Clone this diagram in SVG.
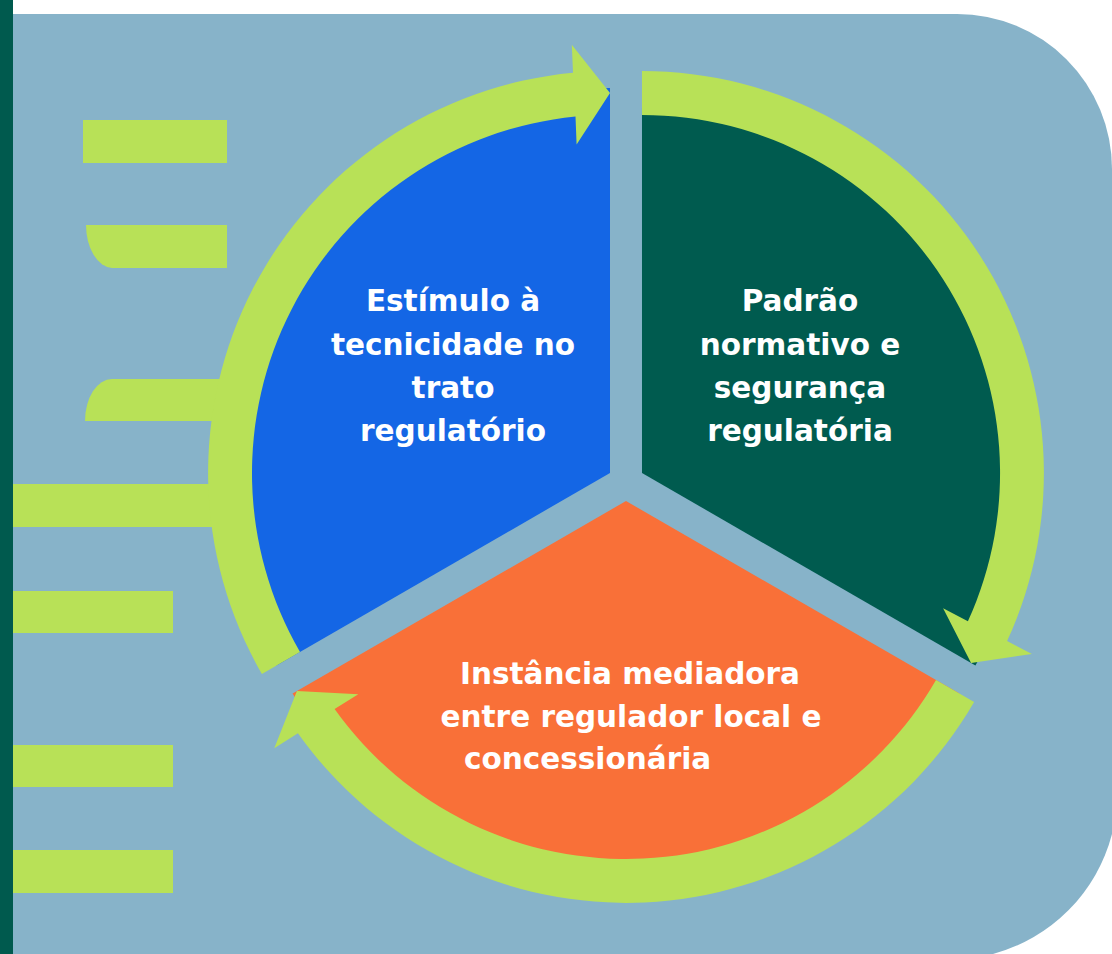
<svg xmlns="http://www.w3.org/2000/svg" width="1112" height="954" viewBox="0 0 1112 954">
  <defs>
    <style>
      .lime { fill: #B8E157; }
      .label { font-family: "DejaVu Sans", Inter, "Liberation Sans", sans-serif; font-weight: 700; font-size: 29.5px; fill: #FFFFFF; }
      .mid { text-anchor: middle; }
    </style>
    <path id="sector" d="M0 0 L-192.5 -333.4 A385 385 0 0 1 385 0 Z"/>
    <path id="ringArrow" d="M-201 -348.1 A402 402 0 0 1 400.2 -37 L428.2 -38.2 L380 0 L328.4 -33.4 L356.4 -34.5 A358 358 0 0 0 -179 -310 Z"/>
  </defs>

  <g id="background">
    <rect x="0" y="0" width="1112" height="954" fill="#FFFFFF"/>
    <path d="M13 14 H957 A155 155 0 0 1 1112 169 V834 A168 168 0 0 1 993 954 H13 Z" fill="#87B3C9"/>
    <rect x="0" y="0" width="13" height="954" fill="#005A4E"/>
  </g>

  <g id="left-bars" class="lime">
    <rect x="83" y="120" width="144" height="43"/>
    <path d="M86 225 H227 V268 H112 A27 43 0 0 1 86 225 Z"/>
    <path d="M85 421 H227 V379 H112 A27 42 0 0 0 85 421 Z"/>
    <rect x="13" y="484" width="214" height="43"/>
    <rect x="13" y="591" width="160" height="42"/>
    <rect x="13" y="745" width="160" height="42"/>
    <rect x="13" y="850" width="160" height="43"/>
  </g>

  <g id="node-estimulo">
    <use href="#sector" transform="translate(610 473) rotate(270)" fill="#1466E5"/>
    <text class="label mid" x="453" y="311">Estímulo à</text>
    <text class="label mid" x="453" y="355">tecnicidade no</text>
    <text class="label mid" x="453" y="398">trato</text>
    <text class="label mid" x="453" y="441">regulatório</text>
  </g>

  <g id="node-padrao">
    <use href="#sector" transform="translate(642 473) rotate(30)" fill="#005B4F"/>
    <text class="label mid" x="800" y="311">Padrão</text>
    <text class="label mid" x="800" y="355">normativo e</text>
    <text class="label mid" x="800" y="398">segurança</text>
    <text class="label mid" x="800" y="441">regulatória</text>
  </g>

  <g id="node-instancia">
    <use href="#sector" transform="translate(626 501) rotate(150)" fill="#F97038"/>
    <text class="label mid" x="630" y="684">Instância mediadora</text>
    <text class="label mid" x="631" y="727">entre regulador local e</text>
    <text class="label" x="464" y="769">concessionária</text>
  </g>

  <g id="connectors" class="lime">
    <use href="#ringArrow" transform="translate(610 473) rotate(270)"/>
    <use href="#ringArrow" transform="translate(642 473) rotate(30)"/>
    <use href="#ringArrow" transform="translate(626 501) rotate(150)"/>
  </g>
</svg>
